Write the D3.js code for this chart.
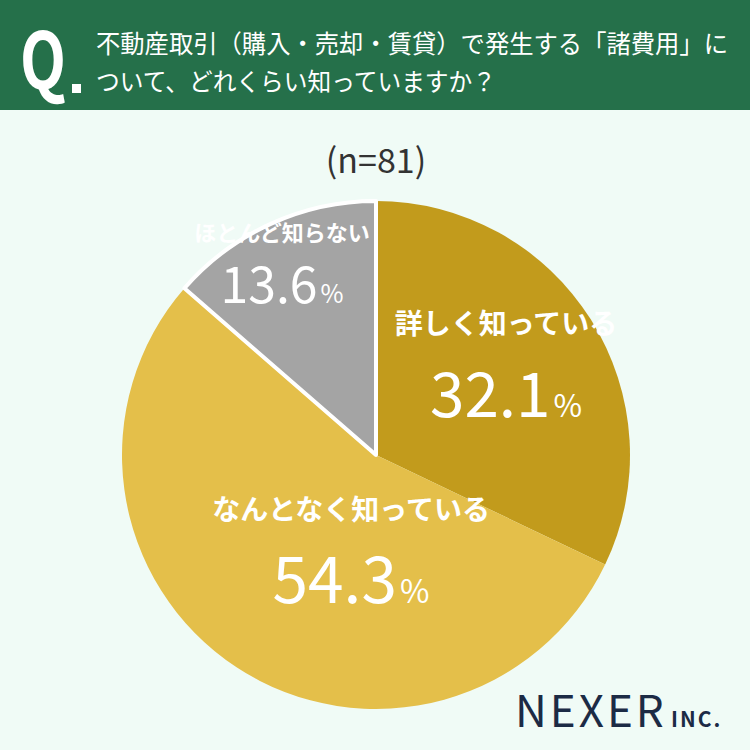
<!DOCTYPE html>
<head>
  <meta charset="utf-8">
  <script src="https://cdn.jsdelivr.net/npm/d3@7"></script>
  <style>
    body { margin: 0; background: #f0fbf6; }
    text { font-family: "Noto Sans CJK JP", "Noto Sans", sans-serif; }
  </style>
</head>
<body>
  <svg id="chart"></svg>
  <script>
    var width = 750;
    var height = 750;

    // answers, clockwise from 12 o'clock
    var labels = ["詳しく知っている", "なんとなく知っている", "ほとんど知らない"];
    var values = [32.1, 54.3, 13.6];
    var colors = ["#c29b1c", "#e4bf4a", "#a4a4a4"];
    var questionLines = ["不動産取引（購入・売却・賃貸）で発生する「諸費用」に", "ついて、どれくらい知っていますか？"];
    var sampleText = "(n=81)";

    var svg = d3.select("#chart")
      .attr("width", width)
      .attr("height", height);

    svg.append("rect")
      .attr("width", width).attr("height", height)
      .attr("fill", "#f0fbf6");

    // header band
    svg.append("rect")
      .attr("width", width).attr("height", 110)
      .attr("fill", "#25704a");

    // big "Q." mark, squeezed horizontally
    svg.append("text")
      .attr("x", 20).attr("y", 89)
      .attr("fill", "#fff")
      .attr("font-family", "Roboto, sans-serif")
      .attr("font-weight", "bold")
      .attr("font-size", 78)
      .attr("textLength", 46)
      .attr("lengthAdjust", "spacingAndGlyphs")
      .text("Q");
    svg.append("rect")
      .attr("x", 72).attr("y", 84).attr("width", 9).attr("height", 9)
      .attr("fill", "#fff");

    var qWidths = [632, 400];
    svg.selectAll(".q")
      .data(questionLines).enter()
      .append("text")
      .attr("class", "q")
      .attr("x", 96)
      .attr("y", (d, i) => 53 + i * 38)
      .attr("fill", "#fff")
      .attr("font-size", 25)
      .attr("textLength", (d, i) => qWidths[i])
      .attr("lengthAdjust", "spacingAndGlyphs")
      .text(d => d);

    svg.append("text")
      .attr("x", 376).attr("y", 173)
      .attr("text-anchor", "middle")
      .attr("fill", "#333")
      .attr("font-family", "Lato, sans-serif")
      .attr("font-size", 34)
      .text(sampleText);

    // pie
    var cx = 376, cy = 455, r = 254;
    var pie = d3.pie().sort(null).value(d => d);
    var arc = d3.arc().innerRadius(0).outerRadius(r);
    var arcs = pie(values);

    var g = svg.append("g").attr("transform", `translate(${cx},${cy})`);
    g.selectAll("path")
      .data(arcs).enter()
      .append("path")
      .attr("d", arc)
      .attr("fill", (d, i) => colors[i]);
    // white edge only around the grey slice
    g.append("path")
      .attr("d", arc(arcs[2]))
      .attr("fill", colors[2])
      .attr("stroke", "#fff")
      .attr("stroke-width", 4)
      .attr("stroke-linejoin", "round");

    // label placement (offset from centre, sizes)
    var labelPos = [[130, -121], [-25, 65], [-94, -214]];
    var nameSize = [28, 28, 22];
    var pctSize = [62, 64, 50];

    var lg = g.selectAll(".lbl")
      .data(arcs).enter()
      .append("g")
      .attr("class", "lbl")
      .attr("transform", (d, i) => `translate(${labelPos[i][0]},${labelPos[i][1]})`);

    lg.append("text")
      .attr("text-anchor", "middle")
      .attr("fill", "#fff")
      .attr("font-size", (d, i) => nameSize[i])
      .attr("font-weight", "bold")
      .text((d, i) => labels[i]);

    var pt = lg.append("text")
      .attr("text-anchor", "middle")
      .attr("y", (d, i) => i == 2 ? 62 : 83)
      .attr("fill", "#fff")
      .attr("font-family", "Lato, sans-serif")
      .attr("font-size", (d, i) => pctSize[i]);
    pt.append("tspan").text(d => d.data.toFixed(1));
    pt.append("tspan")
      .attr("font-size", (d, i) => pctSize[i] * 0.5)
      .attr("dx", 3)
      .text("%");

    // logo
    svg.append("text")
      .attr("x", 515).attr("y", 727)
      .attr("fill", "#1c2b45")
      .attr("font-family", "Lato, sans-serif")
      .attr("font-size", 44)
      .attr("letter-spacing", 3)
      .text("NEXER");
    svg.append("text")
      .attr("x", 671).attr("y", 727)
      .attr("fill", "#1c2b45")
      .attr("font-family", "Lato, sans-serif")
      .attr("font-weight", "bold")
      .attr("font-size", 21)
      .attr("letter-spacing", 2)
      .text("INC.");
  </script>
</body>
